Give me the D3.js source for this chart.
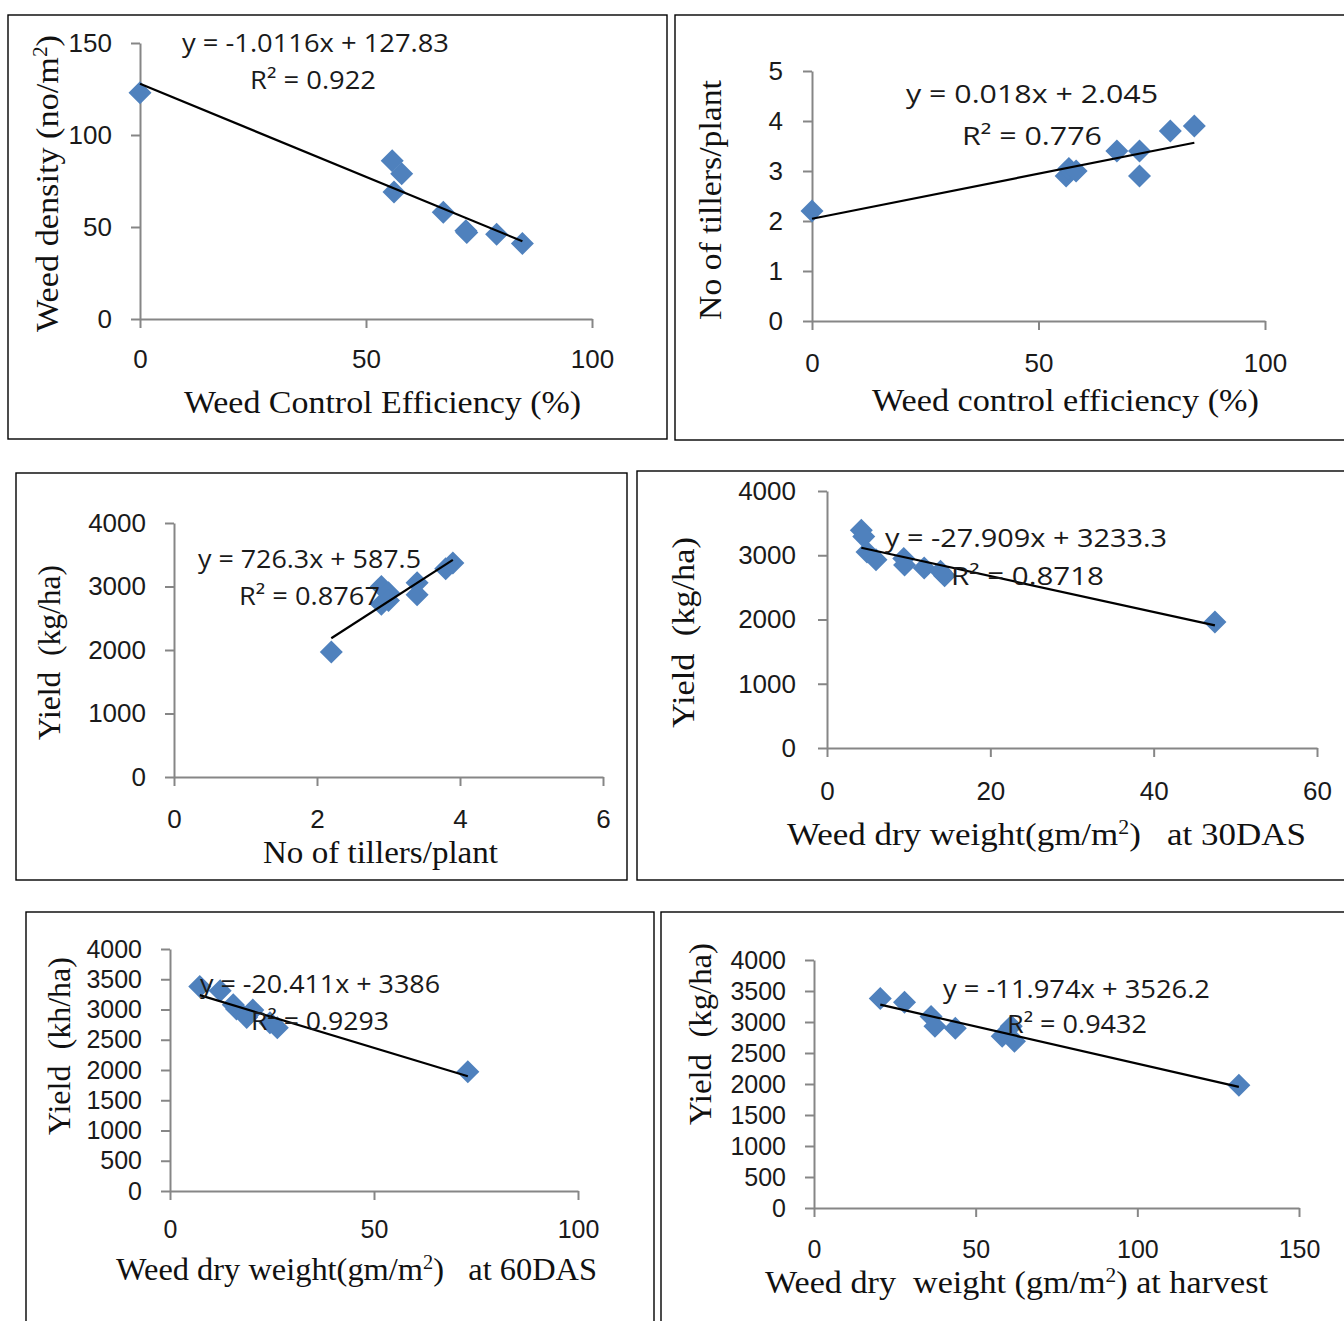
<!DOCTYPE html>
<html lang="en">
<head>
<meta charset="utf-8">
<title>Weed control and yield relations</title>
<script src="https://d3js.org/d3.v7.min.js"></script>
<style>
  body { margin: 0; background: #fff; }
  svg { display: block; }
  text { white-space: pre; }
</style>
</head>
<body>
<svg id="chart" width="1344" height="1321"></svg>
<script>
// ---- data ----
// panel 1: weed density vs weed control efficiency
const p1X = [0, 55.8, 57.9, 56.2, 67.1, 72.1, 72.3, 78.9, 84.6];
const p1Y = [123, 86, 79, 69, 58, 48, 47, 46, 41];
const p1Fit = [-1.0116, 127.83];
const p1XTicks = [0, 50, 100];
const p1YTicks = [0, 50, 100, 150];

// panel 2: tillers vs weed control efficiency
const p2X = [0, 56.1, 56.7, 58.3, 67.3, 72.3, 72.3, 79.1, 84.4];
const p2Y = [2.2, 2.9, 3.05, 3.0, 3.4, 3.4, 2.9, 3.8, 3.9];
const p2Fit = [0.018, 2.045];
const p2XTicks = [0, 50, 100];
const p2YTicks = [0, 1, 2, 3, 4, 5];

// panel 3: yield vs tillers
const p3X = [2.2, 2.9, 2.9, 3.0, 3.0, 3.4, 3.4, 3.8, 3.9];
const p3Y = [1970, 3000, 2720, 2900, 2780, 3060, 2870, 3280, 3370];
const p3Fit = [726.3, 587.5];
const p3XTicks = [0, 2, 4, 6];
const p3YTicks = [0, 1000, 2000, 3000, 4000];

// panel 4: yield vs weed dry weight at 30 DAS
const p4X = [4.2, 4.5, 4.9, 6.0, 9.4, 9.5, 11.9, 13.9, 14.4, 47.5];
const p4Y = [3390, 3290, 3050, 2930, 2950, 2850, 2800, 2750, 2680, 1960];
const p4Fit = [-27.909, 3233.3];
const p4XTicks = [0, 20, 40, 60];
const p4YTicks = [0, 1000, 2000, 3000, 4000];

// panel 5: yield vs weed dry weight at 60 DAS
const p5X = [7.3, 12.3, 15.5, 16.3, 20.3, 18.8, 24.5, 26.3, 73];
const p5Y = [3380, 3310, 3080, 3010, 2990, 2870, 2780, 2700, 1970];
const p5Fit = [-20.411, 3386];
const p5XTicks = [0, 50, 100];
const p5YTicks = [0, 500, 1000, 1500, 2000, 2500, 3000, 3500, 4000];

// panel 6: yield vs weed dry weight at harvest
const p6X = [20.5, 28, 36.2, 37.4, 43.7, 58.2, 61, 62, 131.4];
const p6Y = [3380, 3320, 3090, 2930, 2900, 2770, 2930, 2690, 1980];
const p6Fit = [-11.974, 3526.2];
const p6XTicks = [0, 50, 100, 150];
const p6YTicks = [0, 500, 1000, 1500, 2000, 2500, 3000, 3500, 4000];

const SANS = "'Open Sans', 'Liberation Sans', sans-serif";
const TICKFONT = "'Liberation Sans', Arial, sans-serif";
const SERIF = "'Liberation Serif', 'Times New Roman', serif";
const BLUE = "#4F81BD";
const AXIS = "#868686";

// layout for each panel (pixel positions on the page)
const panels = [
  { xs: p1X, ys: p1Y, fit: p1Fit, xTicks: p1XTicks, yTicks: p1YTicks,
    box: [8, 15, 667, 439], xRange: [140, 592], yRange: [319, 43],
    xLabelY: 368, yLabelRight: 112, tickSize: 26,
    eq: ["y = -1.0116x + 127.83", 182, 52, 267], r2: ["R² = 0.922", 250, 89, 126],
    xTitle: [["Weed Control Efficiency (%)"]], xT: [184, 413, 397],
    yTitle: [["Weed density (no/m"], ["2", true], [")"]], yT: [58, 332, 297] },
  { xs: p2X, ys: p2Y, fit: p2Fit, xTicks: p2XTicks, yTicks: p2YTicks,
    box: [675, 15, 1360, 440], xRange: [812, 1265], yRange: [321, 71],
    xLabelY: 372, yLabelRight: 783, tickSize: 26,
    eq: ["y = 0.018x + 2.045", 906, 103, 252], r2: ["R² = 0.776", 962, 145, 140],
    xTitle: [["Weed control efficiency (%)"]], xT: [872, 411, 387],
    yTitle: [["No of tillers/plant"]], yT: [721, 320, 240] },
  { xs: p3X, ys: p3Y, fit: p3Fit, xTicks: p3XTicks, yTicks: p3YTicks,
    box: [16, 473, 627, 880], xRange: [174, 603], yRange: [777, 523],
    xLabelY: 828, yLabelRight: 146, tickSize: 26,
    eq: ["y = 726.3x + 587.5", 198, 568, 223], r2: ["R² = 0.8767", 239, 605, 141],
    xTitle: [["No of tillers/plant"]], xT: [263, 863, 235],
    yTitle: [["Yield  (kg/ha)"]], yT: [60, 740, 175] },
  { xs: p4X, ys: p4Y, fit: p4Fit, xTicks: p4XTicks, yTicks: p4YTicks,
    box: [637, 471, 1360, 880], xRange: [827, 1317], yRange: [748, 491],
    xLabelY: 800, yLabelRight: 796, tickSize: 26,
    eq: ["y = -27.909x + 3233.3", 885, 547, 282], r2: ["R² = 0.8718", 951, 585, 153],
    xTitle: [["Weed dry weight(gm/m"], ["2", true], [")   at 30DAS"]], xT: [787, 845, 519],
    yTitle: [["Yield  (kg/ha)"]], yT: [694, 728, 191] },
  { xs: p5X, ys: p5Y, fit: p5Fit, xTicks: p5XTicks, yTicks: p5YTicks,
    box: [26, 912, 654, 1340], xRange: [170, 578], yRange: [1191, 949],
    xLabelY: 1238, yLabelRight: 142, tickSize: 25,
    eq: ["y = -20.411x + 3386", 200, 993, 240], r2: ["R² = 0.9293", 251, 1030, 138],
    xTitle: [["Weed dry weight(gm/m"], ["2", true], [")   at 60DAS"]], xT: [116, 1280, 481],
    yTitle: [["Yield  (kh/ha)"]], yT: [70, 1135, 178] },
  { xs: p6X, ys: p6Y, fit: p6Fit, xTicks: p6XTicks, yTicks: p6YTicks,
    box: [661, 912, 1360, 1340], xRange: [814, 1299], yRange: [1208, 960],
    xLabelY: 1258, yLabelRight: 786, tickSize: 25,
    eq: ["y = -11.974x + 3526.2", 943, 998, 267], r2: ["R² = 0.9432", 1007, 1033, 140],
    xTitle: [["Weed dry  weight (gm/m"], ["2", true], [") at harvest"]], xT: [765, 1293, 503],
    yTitle: [["Yield  (kg/ha)"]], yT: [711, 1125, 182] }
];

const svg = d3.select("#chart");

function addTitle(g, parts, transform, len) {
  const t = g.append("text")
    .attr("transform", transform)
    .attr("font-family", SERIF)
    .attr("font-size", 32)
    .attr("fill", "#111")
    .attr("textLength", len)
    .attr("lengthAdjust", "spacingAndGlyphs");
  parts.forEach(p => {
    const s = t.append("tspan").text(p[0]);
    if (p[1]) s.attr("baseline-shift", "super").attr("font-size", 20);
  });
}

function drawPanel(c) {
  const g = svg.append("g");

  // frame
  g.append("rect")
    .attr("x", c.box[0]).attr("y", c.box[1])
    .attr("width", c.box[2] - c.box[0]).attr("height", c.box[3] - c.box[1])
    .attr("fill", "none").attr("stroke", "#000").attr("stroke-width", 1.4);

  const x = d3.scaleLinear().domain([c.xTicks[0], c.xTicks[c.xTicks.length - 1]]).range(c.xRange);
  const y = d3.scaleLinear().domain([c.yTicks[0], c.yTicks[c.yTicks.length - 1]]).range(c.yRange);

  // axes
  const xa = g.append("g")
    .attr("transform", `translate(0,${c.yRange[0]})`)
    .call(d3.axisBottom(x).tickValues(c.xTicks).tickSize(9).tickSizeOuter(0).tickFormat(d3.format("d")));
  const ya = g.append("g")
    .attr("transform", `translate(${c.xRange[0]},0)`)
    .call(d3.axisLeft(y).tickValues(c.yTicks).tickSize(9).tickSizeOuter(0).tickFormat(d3.format("d")));

  [xa, ya].forEach(a => {
    a.attr("font-family", TICKFONT).attr("font-size", c.tickSize).attr("color", AXIS);
    a.selectAll("path, line").attr("stroke-width", 2);
    a.selectAll("text").attr("fill", "#1a1a1a");
  });
  xa.selectAll("text").attr("dy", null).attr("y", c.xLabelY - c.yRange[0]);
  ya.selectAll("text").attr("x", c.yLabelRight - c.xRange[0]);

  // markers
  g.selectAll("path.pt")
    .data(d3.zip(c.xs, c.ys))
    .join("path")
    .attr("class", "pt")
    .attr("d", d3.symbol(d3.symbolSquare, 265))
    .attr("transform", d => `translate(${x(d[0])},${y(d[1])}) rotate(45)`)
    .attr("fill", BLUE);

  // linear trendline over the data range
  const ends = d3.extent(c.xs).map(v => [v, c.fit[0] * v + c.fit[1]]);
  g.append("path")
    .attr("d", d3.line().x(d => x(d[0])).y(d => y(d[1]))(ends))
    .attr("stroke", "#000").attr("stroke-width", 2.2).attr("fill", "none");

  // equation labels
  [c.eq, c.r2].forEach(e => {
    g.append("text")
      .attr("x", e[1]).attr("y", e[2])
      .attr("font-family", SANS).attr("font-size", 26)
      .attr("fill", "#1a1a1a")
      .attr("textLength", e[3]).attr("lengthAdjust", "spacingAndGlyphs")
      .text(e[0]);
  });

  // axis titles
  addTitle(g, c.xTitle, `translate(${c.xT[0]},${c.xT[1]})`, c.xT[2]);
  addTitle(g, c.yTitle, `translate(${c.yT[0]},${c.yT[1]}) rotate(-90)`, c.yT[2]);
}

panels.forEach(drawPanel);
</script>
</body>
</html>
